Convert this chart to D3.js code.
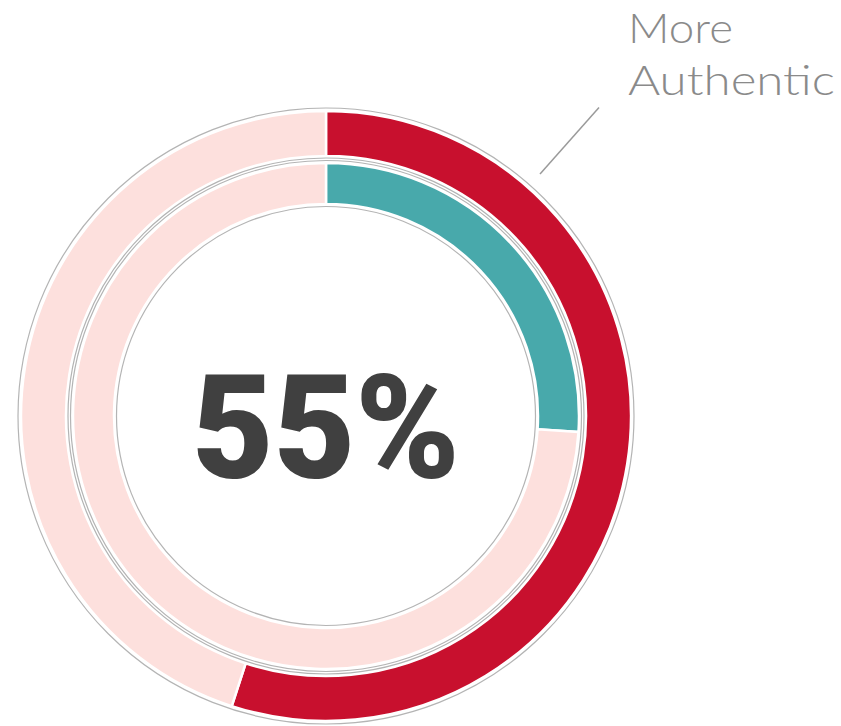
<!DOCTYPE html>
<html>
<head>
<meta charset="utf-8">
<script src="https://cdn.jsdelivr.net/npm/d3@7"></script>
<style>
  html, body { margin: 0; padding: 0; background: #ffffff; }
  svg { display: block; }
</style>
</head>
<body>
<div id="chart"></div>
<script>
// Ring data: outer ring share and inner ring share (percent)
const rings = ["outer", "inner"];
const ringValues = [55, 26];
const ringColors = ["#c8102e", "#48a9ab"];
const restColor = "#fde0dd";
const centerLabel = "55%";
const calloutLines = ["More", "Authentic"];

const width = 841, height = 726;
const cx = 326, cy = 416;

// Band radii per ring [inner, outer] and outline radii
const bands = [
  { r0: 260, r1: 305, outline: [308, 258] },
  { r0: 212, r1: 253, outline: [255.5, 209.5] }
];

const svg = d3.select("#chart").append("svg")
  .attr("width", width)
  .attr("height", height);

const g = svg.append("g").attr("transform", `translate(${cx},${cy})`);

const pie = d3.pie().sort(null).value(d => d.v);

rings.forEach((name, i) => {
  const data = [
    { key: name, v: ringValues[i], color: ringColors[i] },
    { key: "rest", v: 100 - ringValues[i], color: restColor }
  ];
  const arc = d3.arc().innerRadius(bands[i].r0).outerRadius(bands[i].r1);
  const rg = g.append("g").attr("class", "ring-" + name);
  rg.selectAll("path")
    .data(pie(data))
    .join("path")
    .attr("d", arc)
    .attr("fill", d => d.data.color)
    .attr("stroke", "#ffffff")
    .attr("stroke-width", 2.5);
  rg.selectAll("circle")
    .data(bands[i].outline)
    .join("circle")
    .attr("r", d => d)
    .attr("fill", "none")
    .attr("stroke", "#b4b4b4")
    .attr("stroke-width", 1.2);
});

// Center value
g.append("text")
  .attr("x", 0)
  .attr("y", 62)
  .attr("text-anchor", "middle")
  .attr("font-family", "Roboto, 'DejaVu Sans', sans-serif")
  .attr("font-weight", 900)
  .attr("font-size", 145)
  .attr("fill", "#404040")
  .attr("textLength", 268)
  .attr("lengthAdjust", "spacingAndGlyphs")
  .text(centerLabel);

// Callout leader line
const leadAngle = 41.5 * Math.PI / 180;
const lr0 = 323, lr1 = 412;
g.append("line")
  .attr("x1", lr0 * Math.sin(leadAngle))
  .attr("y1", -lr0 * Math.cos(leadAngle))
  .attr("x2", lr1 * Math.sin(leadAngle))
  .attr("y2", -lr1 * Math.cos(leadAngle))
  .attr("stroke", "#9a9a9a")
  .attr("stroke-width", 1.5);

// Callout label
const calloutWidths = [105, 207];
svg.append("g")
  .selectAll("text")
  .data(calloutLines)
  .join("text")
  .attr("x", 628)
  .attr("y", (d, i) => 43 + i * 52)
  .attr("font-family", "Lato, 'Open Sans', sans-serif")
  .attr("font-weight", 300)
  .attr("font-size", 42)
  .attr("fill", "#8a8a8a")
  .attr("textLength", (d, i) => calloutWidths[i])
  .attr("lengthAdjust", "spacingAndGlyphs")
  .text(d => d);
</script>
</body>
</html>
